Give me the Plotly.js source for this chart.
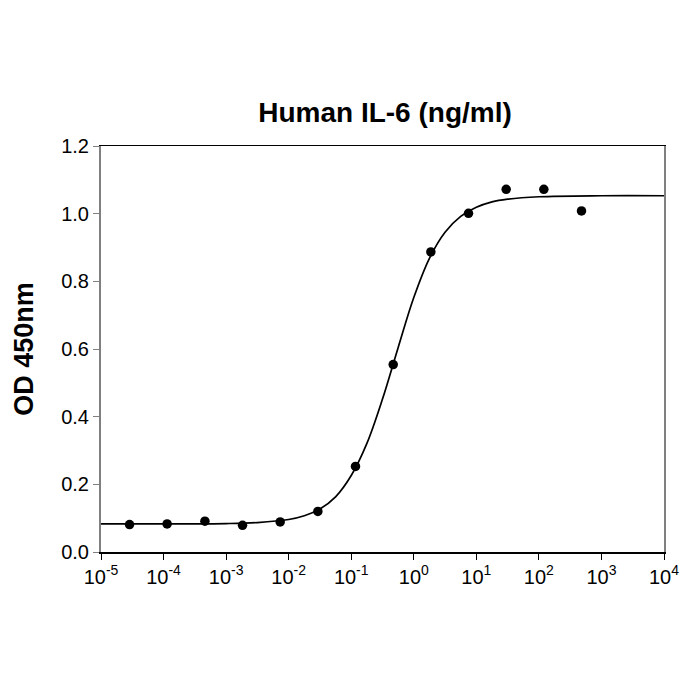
<!DOCTYPE html>
<html>
<head>
<meta charset="utf-8">
<script src="https://cdn.plot.ly/plotly-3.0.1.min.js"></script>
<style>html,body{margin:0;padding:0;background:#fff;}#chart{width:700px;height:700px;}</style>
</head>
<body>
<div id="chart"></div>
<script>
// Measured points (concentration ng/ml, OD 450nm)
var concentration = [2.86e-5, 1.14e-4, 4.58e-4, 1.83e-3, 7.32e-3, 0.0293, 0.117, 0.469, 1.875, 7.5, 30, 120, 480];
var od450 = [0.081, 0.083, 0.091, 0.079, 0.089, 0.120, 0.253, 0.554, 0.887, 1.001, 1.072, 1.072, 1.008];

// Fitted curve
var curveX = [1e-5, 1e-4, 1e-3, 3.16e-3, 1e-2, 1.78e-2, 3.16e-2, 5.62e-2, 0.1, 0.178, 0.316, 0.562, 1, 1.78, 3.16, 5.62, 10, 17.8, 31.6, 100, 1000, 10000];
var curveY = [0.083, 0.083, 0.084, 0.087, 0.096, 0.107, 0.127, 0.163, 0.226, 0.321, 0.452, 0.604, 0.752, 0.868, 0.945, 0.992, 1.019, 1.035, 1.043, 1.050, 1.053, 1.053];

var xTickVals = [1e-5, 1e-4, 1e-3, 1e-2, 1e-1, 1, 10, 100, 1000, 10000];
var xTickText = ['10<sup>-5</sup>', '10<sup>-4</sup>', '10<sup>-3</sup>', '10<sup>-2</sup>', '10<sup>-1</sup>', '10<sup>0</sup>', '10<sup>1</sup>', '10<sup>2</sup>', '10<sup>3</sup>', '10<sup>4</sup>'];
var yTickVals = [0, 0.2, 0.4, 0.6, 0.8, 1.0, 1.2];

var font = 'Arial, "Liberation Sans", sans-serif';

var traces = [
  {x: curveX, y: curveY, type: 'scatter', mode: 'lines', line: {color: '#000', width: 1.7, shape: 'spline', smoothing: 1}, hoverinfo: 'skip'},
  {x: concentration, y: od450, type: 'scatter', mode: 'markers', marker: {color: '#000', size: 9.5}}
];

var layout = {
  width: 700, height: 700,
  paper_bgcolor: '#fff', plot_bgcolor: '#fff',
  showlegend: false,
  margin: {l: 101, r: 36, t: 146, b: 148},
  title: {text: '<b>Human IL-6 (ng/ml)</b>', font: {family: font, size: 28, color: '#000'}, x: 0.55, xanchor: 'center', y: 0.84, yanchor: 'middle'},
  xaxis: {
    type: 'log', range: [-5, 4], tickvals: xTickVals, ticktext: xTickText,
    showgrid: false, zeroline: false, showline: true, linecolor: '#000', linewidth: 1.5, mirror: true,
    ticks: 'outside', ticklen: 6, tickcolor: '#000', tickwidth: 1,
    tickfont: {family: font, size: 20, color: '#000'}, automargin: false
  },
  yaxis: {
    range: [0, 1.2], tickvals: yTickVals, tickformat: '.1f',
    showgrid: false, zeroline: false, showline: true, linecolor: '#808080', linewidth: 2, mirror: true,
    ticks: 'outside', ticklen: 6, tickcolor: '#808080', tickwidth: 1,
    tickfont: {family: font, size: 20, color: '#000'},
    title: {text: '<b>OD 450nm</b>', font: {family: font, size: 27, color: '#000'}, standoff: 20},
    automargin: false
  }
};

Plotly.newPlot('chart', traces, layout, {displayModeBar: false, staticPlot: true});
</script>
</body>
</html>
